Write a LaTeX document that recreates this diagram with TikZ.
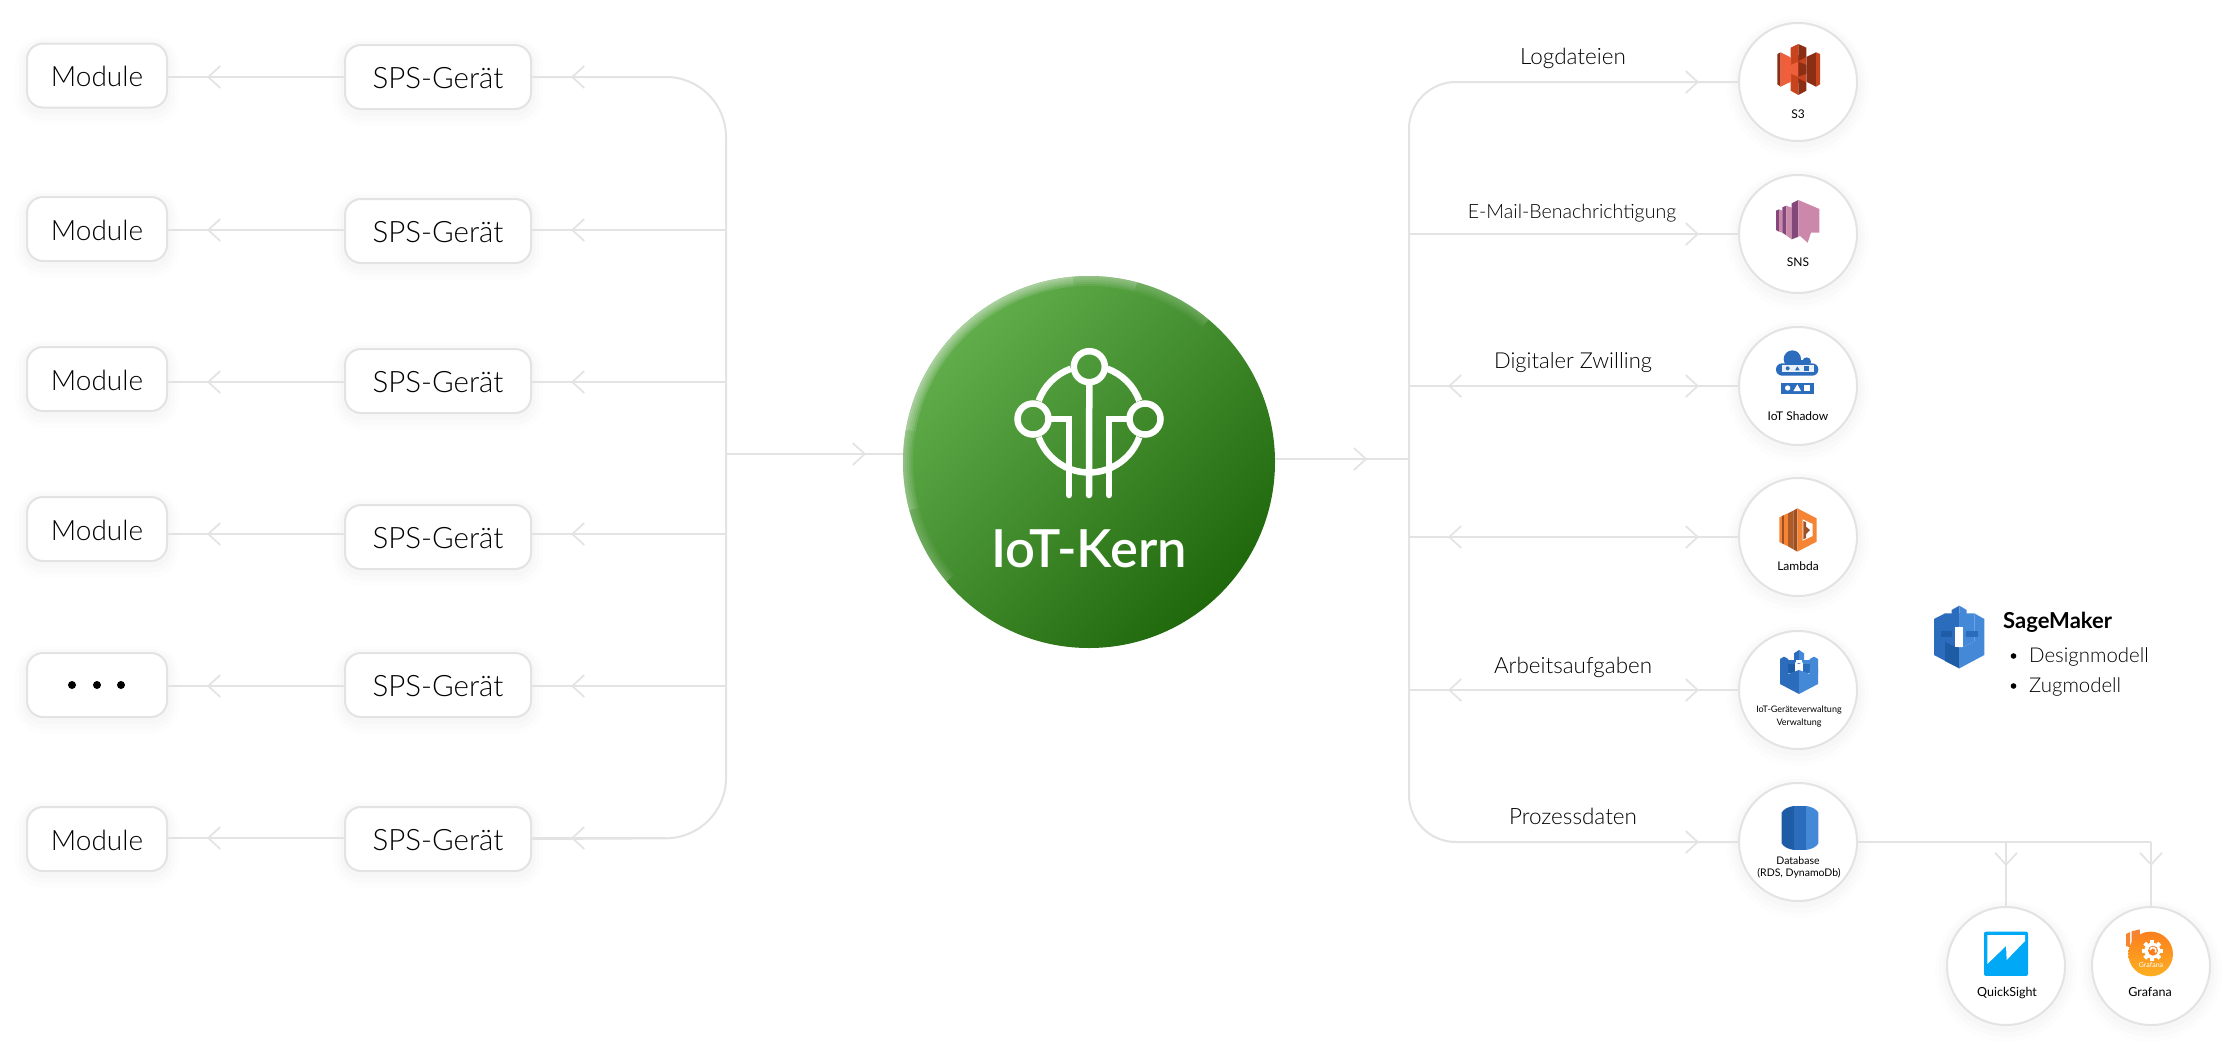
\documentclass[tikz,border=0pt]{standalone}
\usepackage{fontspec}
\setmainfont{Lato}
\newfontfamily\lightf{Lato Light}
\newfontfamily\medf{Lato Semibold}
\usetikzlibrary{arrows.meta,decorations.markings,calc}
\definecolor{linec}{HTML}{E3E3E3}
\definecolor{ink}{HTML}{000000}
\definecolor{sdark}{HTML}{8C2E14}
\definecolor{sor}{HTML}{EF5F3C}
\definecolor{smid}{HTML}{C8441F}
\definecolor{pdark}{HTML}{83477A}
\definecolor{plight}{HTML}{CC88AA}
\definecolor{bd}{HTML}{1E5CA6}
\definecolor{bm}{HTML}{2B6CBD}
\definecolor{bl}{HTML}{4389D8}
\definecolor{lo}{HTML}{F58534}
\definecolor{ld}{HTML}{9D5025}
\definecolor{HL}{HTML}{62AE4C}
\definecolor{HD}{HTML}{1F680C}
\definecolor{QS}{HTML}{00A8F5}
\definecolor{GA}{HTML}{FA7F1E}
\definecolor{GB}{HTML}{FDB022}
\tikzset{
  x=1pt,y=-1pt,
  ch/.tip={Straight Barb[length=12pt,width=22pt,line width=1.7pt]},
  conn/.style={draw=linec,line width=2pt},
  chev/.style={postaction={decorate,decoration={markings,mark=at position #1pt with {\arrow{ch}}}}},
  chevback/.style={postaction={decorate,decoration={markings,mark=at position #1pt with {\arrowreversed{ch}}}}},
  soft/.style={preaction={draw=black,draw opacity=.012,line width=8pt,transform canvas={yshift=-3pt}},
               preaction={draw=black,draw opacity=.010,line width=16pt,transform canvas={yshift=-4pt}},
               preaction={draw=black,draw opacity=.008,line width=24pt,transform canvas={yshift=-5pt}}},
  tag/.style={font=\lightf\fontsize{#1}{#1}\selectfont,text=ink,inner sep=0pt,anchor=base},
  boxbase/.style={draw=linec,line width=2pt,fill=white,rounded corners=16pt,minimum height=64pt,inner sep=0pt,soft,
     text height=22pt,text depth=0pt,text=ink},
  modbox/.style={boxbase,minimum width=140pt,font=\lightf\fontsize{28}{28}\selectfont},
  spsbox/.style={boxbase,minimum width=186pt,font=\lightf\fontsize{29.5}{29.5}\selectfont},
  svc/.style={circle,draw=linec,line width=2pt,fill=white,minimum size=118pt,inner sep=0pt,soft},
  small/.style={font=\fontsize{#1}{#1}\selectfont,text=ink,inner sep=0pt,anchor=base},
  logo/.style={draw=white,line width=6.5pt,line cap=round},
  ic/.style={x=.3333pt,y=-.3333pt},
}
\begin{document}
\begin{tikzpicture}
\useasboundingbox (0,0) rectangle (2233,1050);
\fill[white] (0,0) rectangle (2233,1050);
% row levels
\foreach \i/\y in {1/77,2/230,3/382,4/534,5/686,6/838}{\coordinate (ly\i) at (0,\y);}
\coordinate (busL) at (726,454);
\coordinate (busLt) at (726,77);
\coordinate (busLb) at (726,838);
\coordinate (stubt) at (666,77);
\coordinate (stubb) at (666,838);
\coordinate (busR) at (1409,459);
\coordinate (busRt) at (1409,82);
\coordinate (busRb) at (1409,842);
\coordinate (stubrt) at (1460,82);
\coordinate (stubrb) at (1460,842);
\coordinate (dbturn) at (2151,842);
\coordinate (dbjoin) at (2006,842);

% nodes
\node[circle,minimum size=372pt,inner sep=0pt,shade,top color=HL,bottom color=HD,shading angle=45] (core) at (1089,462) {};
\foreach \i/\y in {1/75.5,2/229,3/379,4/529,6/839}{\node[modbox] (mod\i) at (97,\y) {Module};}
\node[modbox] (mod5) at (97,685) {};
\foreach \i/\y in {1/77,2/231,3/381,4/537,5/685,6/839}{\node[spsbox] (sps\i) at (438,\y) {SPS-Gerät};}
\foreach \n/\y in {s3/82,sns/234,shadow/386,lambda/537,dev/690,db/842}{\node[svc] (\n) at (1798,\y) {};}
\node[svc] (qs) at (2006,966) {};
\node[svc] (gf) at (2151,966) {};

% left connectors
\draw[conn,rounded corners=60pt] (sps1.east) -- (busLt) -- (busLb) -- (sps6.east);
\draw[conn,chev=95] (stubt) -- (sps1.east |- ly1);
\draw[conn,chev=95] (stubb) -- (sps6.east |- ly6);
\foreach \i in {2,3,4,5}{\draw[conn,chev=155] (busL |- ly\i) -- (sps\i.east |- ly\i);}
\foreach \i in {1,...,6}{\draw[conn,chev=137] (sps\i.west |- ly\i) -- (mod\i.east |- ly\i);}
\draw[conn,chev=140] (busL) -- (core.west |- busL);
% right connectors
\draw[conn,chev=92] (core.east |- busR) -- (busR);
\draw[conn,rounded corners=47pt] (s3.west) -- (busRt) -- (busRb) -- (db.west);
\draw[conn,chev=239] (stubrt) -- (s3.west);
\draw[conn,chev=239] (stubrb) -- (db.west);
\draw[conn,chev=290] (busRt |- sns.west) -- (sns.west);
\draw[conn,chev=290,chevback=39] (busRt |- shadow.west) -- (shadow.west);
\draw[conn,chev=290,chevback=39] (busRt |- lambda.west) -- (lambda.west);
\draw[conn,chev=290,chevback=39] (busRt |- dev.west) -- (dev.west);
\draw[conn] (db.east) -- (dbturn);
\draw[conn,chev=24] (dbjoin) -- (qs.north);
\draw[conn,chev=24] (dbturn) -- (gf.north);

% core rim, soft and strongest at the upper left
\foreach \w in {2,4,6,8,10}{
  \foreach \a/\b in {190/265,165/285,140/310}{
    \draw[white,opacity=.045,line width=\w pt] ([shift={(\a:186-\w/2)}]core.center) arc[start angle=\a,end angle=\b,radius=186-\w/2];
  }
}
% core logo
\coordinate (lc) at (1089,419);
\draw[logo,line cap=butt] ([shift={(200:53.5)}]lc) arc[start angle=200,end angle=250,radius=53.5];
\draw[logo,line cap=butt] ([shift={(290:53.5)}]lc) arc[start angle=290,end angle=340,radius=53.5];
\draw[logo,line cap=butt] ([shift={(20:53.5)}]lc) arc[start angle=20,end angle=160,radius=53.5];
\node[circle,draw=white,line width=6.5pt,minimum size=31pt,inner sep=0pt] (ltop) at (1089.3,366.7) {};
\node[circle,draw=white,line width=6.5pt,minimum size=31pt,inner sep=0pt] (lleft) at (1033,419) {};
\node[circle,draw=white,line width=6.5pt,minimum size=31pt,inner sep=0pt] (lright) at (1145,419) {};
\coordinate (e1) at (1069,495);\coordinate (e2) at (1089,495);\coordinate (e3) at (1109,495);
\draw[logo] (ltop.south) -- (e2);
\draw[logo,line join=miter] (lleft.east) -| (e1);
\draw[logo,line join=miter] (lright.west) -| (e3);
\node[font=\medf\fontsize{52.5}{52.5}\selectfont,text=white,inner sep=0pt,anchor=base] (corelabel) at (1089,567) {IoT-Kern};

% dots in box 5
\foreach \x in {72,97,121}{\fill[black] (\x,685) circle[radius=4];}

% edge labels
\node[tag=22.5] (t1) at (1573,64) {Logdateien};
\node[tag=19.6] (t2) at (1572,218) {E-Mail-Benachrichtigung};
\node[tag=22] (t3) at (1573,368) {Digitaler Zwilling};
\node[tag=22.4] (t4) at (1573,673) {Arbeitsaufgaben};
\node[tag=22.5] (t5) at (1573,824) {Prozessdaten};

% service labels
\node[small=12] (ls3) at (1798,118) {S3};
\node[small=12] (lsns) at (1798,266) {SNS};
\node[small=12] (lsh) at (1798,420) {IoT Shadow};
\node[small=12] (lla) at (1798,570) {Lambda};
\node[small=9] (ld1) at (1799,712) {IoT-Geräteverwaltung};
\node[small=9] (ld2) at (1799,725) {Verwaltung};
\node[small=10.5] (ldb1) at (1798,864) {Database};
\node[small=10.5] (ldb2) at (1799,876) {(RDS, DynamoDb)};
\node[small=12.5] (lq) at (2007,996) {QuickSight};
\node[small=12.5] (lg) at (2150,996) {Grafana};

% SageMaker text
\node[font=\bfseries\fontsize{22}{22}\selectfont,text=black,inner sep=0pt,anchor=base west] (smt) at (2003,628) {SageMaker};
\node[tag=20.4,anchor=base west] (sm1) at (2029,662) {Designmodell};
\node[tag=20.4,anchor=base west] (sm2) at (2029,692) {Zugmodell};
\fill[ink] (2013.5,656) circle[radius=2.8];
\fill[ink] (2013.5,686) circle[radius=2.8];

% S3 icon
\begin{scope}[shift={(1765,35)},ic]
\fill[smid] (77,60) rectangle (124,145);
\fill[sdark] (37,57)--(47,52)--(47,155)--(37,148)--cycle;
\fill[sor] (47,52)--(78,68)--(78,140)--(47,155)--cycle;
\fill[sdark] (124,66)--(153,52)--(153,155)--(124,140)--cycle;
\fill[smid] (153,52)--(165,57)--(165,148)--(153,155)--cycle;
\fill[smid] (77,38)--(100,27)--(100,78)--(77,66)--cycle;
\fill[sdark] (100,27)--(124,38)--(124,66)--(100,78)--cycle;
\fill[sor] (77,90)--(100,80)--(100,125)--(77,116)--cycle;
\fill[sdark] (100,80)--(124,90)--(124,116)--(100,125)--cycle;
\fill[smid] (77,142)--(100,130)--(100,180)--(77,167)--cycle;
\fill[sdark] (100,130)--(124,142)--(124,167)--(100,180)--cycle;
\end{scope}
% SNS icon
\begin{scope}[shift={(1765,190)},ic]
\fill[pdark] (33,62)--(42,58)--(42,125)--(33,120)--cycle;
\fill[plight] (42,58)--(52,62)--(52,128)--(42,125)--cycle;
\fill[pdark] (52,52)--(64,47)--(64,136)--(52,128)--cycle;
\fill[plight] (64,47)--(80,53)--(80,148)--(64,136)--cycle;
\fill[pdark] (80,40)--(100,30)--(100,140)--(80,148)--cycle;
\fill[plight] (100,30)--(163,57)--(163,128)--(138,128)--(128,158)--(105,138)--(100,140)--cycle;
\end{scope}
% Shadow icon
\begin{scope}[shift={(1765,345)},ic]
\fill[bm] (82,42) circle[radius=26];
\fill[bm] (125,50) circle[radius=13];
\fill[bm] (60,45) rectangle (135,60);
\fill[bm,rounded corners=6pt] (33,55) rectangle (160,92);
\fill[white!90!bm] (50,61) rectangle (148,80);
\fill[bm] (68,70) circle[radius=6];
\fill[bm] (97,64)--(90,76)--(104,76)--cycle;
\fill[bm] (118,63) rectangle (132,77);
\fill[bm] (47,113) rectangle (146,148);
\fill[white] (68,129) circle[radius=8];
\fill[white] (97,118)--(85,138)--(108,138)--cycle;
\fill[white] (118,120) rectangle (135,138);
\end{scope}
% Lambda icon
\begin{scope}[shift={(1720,460)},ic]
\fill[lo] (178,172)--(186,168)--(186,250)--(178,246)--cycle;
\fill[ld] (186,168)--(192,165)--(192,253)--(186,250)--cycle;
\fill[lo] (192,165)--(204,160)--(204,259)--(192,253)--cycle;
\fill[ld!80!lo] (204,160)--(220,152)--(220,268)--(204,259)--cycle;
\fill[ld] (220,152)--(232,145)--(232,275)--(220,268)--cycle;
\fill[lo] (232,145)--(290,175)--(290,245)--(232,275)--cycle;
\fill[white] (248,178)--(278,192)--(278,228)--(248,242)--cycle;
\fill[ld] (250,183)--(258,187)--(258,200)--(270,210)--(258,222)--(258,234)--(250,238)--cycle;
\end{scope}
% Device icon
\begin{scope}[shift={(1720,460)},ic]
\foreach \m/\c/\d in {1/bm/bd,-1/bl/bm}{
 \begin{scope}[xshift={237pt/3},xscale=\m,xshift={-237pt/3}]
  \fill[\c] (180,597)--(192,590)--(205,597)--(205,640)--(180,640)--cycle;
  \fill[\c] (205,600) rectangle (224,612);
  \fill[\d] (205,612) rectangle (224,640);
  \fill[\c] (180,625)--(205,625)--(205,642)--(237,630)--(237,702)--(180,672)--cycle;
  \fill[\c] (222,580)--(237,570)--(237,612)--(222,605)--cycle;
 \end{scope}
}
\fill[white] (229,600) rectangle (245,609);
\end{scope}
% SageMaker icon
\begin{scope}[shift={(1925,600)},ic]
\fill[bm] (60,40)--(103,40)--(103,145)--(60,125)--cycle;
\fill[bl] (148,40)--(103,40)--(103,145)--(148,125)--cycle;
\fill[bm] (27,57)--(60,40)--(60,125)--(103,145)--(103,205)--(27,165)--cycle;
\fill[bl] (148,40)--(178,57)--(178,165)--(103,205)--(103,145)--(148,125)--cycle;
\fill[bd] (60,125)--(103,145)--(103,205)--(60,183)--cycle;
\fill[bd] (47,92) rectangle (82,112);
\fill[bm] (122,92) rectangle (158,112);
\fill[bm] (80,30)--(103,17)--(103,78)--(80,65)--cycle;
\fill[bl] (103,17)--(125,30)--(125,65)--(103,78)--cycle;
\fill[white] (90,80) rectangle (113,140);
\end{scope}
% Database icon
\begin{scope}[shift={(1720,460)},ic]
\fill[bd] (222,1038) .. controls (205,1040) and (190,1048) .. (185,1058)--(185,1150) .. controls (190,1160) and (205,1168) .. (222,1170)--cycle;
\fill[bm] (222,1038) rectangle (258,1170);
\fill[bl] (258,1038) .. controls (275,1040) and (290,1048) .. (295,1058)--(295,1150) .. controls (290,1160) and (275,1168) .. (258,1170)--cycle;
\end{scope}
% QuickSight icon
\begin{scope}[shift={(1900,830)},ic]
\fill[QS,rounded corners=2pt] (252,305) rectangle (384,438);
\fill[white] (262,315)--(375,315)--(375,333)--(320,390)--(318,348)--(262,402)--cycle;
\end{scope}
% Grafana icon
\begin{scope}[shift={(1900,830)},ic]
\fill[lo] (678,312)--(690,306)--(690,352)--(678,348)--cycle;
\fill[lo] (695,304)--(720,298)--(718,345)--(695,352)--cycle;
\shade[top color=GA,bottom color=GB] (752,372) circle[radius=67];
\foreach \a in {0,45,...,315}{\fill[white,rotate around={\a:(757,362)}] (751,330) rectangle (763,345);}
\fill[white] (757,362) circle[radius=24];
\fill[GA] (759,362) circle[radius=15];
\draw[white,line width=1.6pt] (750,360) arc[start angle=190,end angle=400,radius=9];
\end{scope}
\node[font=\fontsize{7}{7}\selectfont,text=white,inner sep=0pt] (gflogo) at (2151,965) {Grafana};
\end{tikzpicture}
\end{document}
